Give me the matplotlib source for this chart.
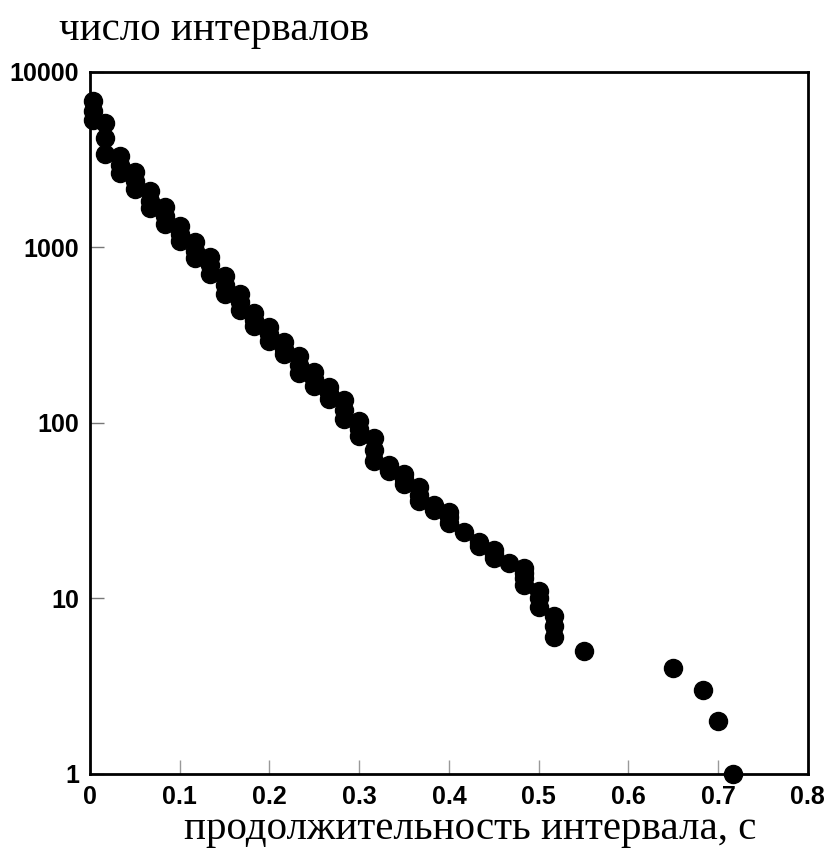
import matplotlib
matplotlib.use("Agg")
import matplotlib.pyplot as plt
from matplotlib.ticker import FixedLocator, NullLocator

# interval duration bins (s) and the counts plotted in each bin
durations = [0.003, 0.0167, 0.0333, 0.05, 0.0667, 0.0833, 0.1, 0.1167, 0.1333,
             0.15, 0.1667, 0.1833, 0.2, 0.2167, 0.2333, 0.25, 0.2667, 0.2833,
             0.3, 0.3167, 0.3333, 0.35, 0.3667, 0.3833, 0.4, 0.4167, 0.4333,
             0.45, 0.4667, 0.4833, 0.5, 0.5167, 0.55, 0.65, 0.6833, 0.7, 0.7167]
counts = [
    [6800, 6000, 5300], [5100, 4200, 3400], [3300, 2950, 2650],
    [2700, 2400, 2150], [2100, 1850, 1680], [1700, 1520, 1360],
    [1330, 1200, 1090], [1075, 960, 870], [880, 790, 705],
    [690, 610, 545], [540, 490, 440], [425, 385, 357],
    [352, 320, 293], [290, 265, 247], [241, 215, 193],
    [196, 178, 162], [160, 148, 137], [135, 118, 105],
    [103, 93, 84], [82, 70, 61], [58, 55, 53],
    [51, 48, 45], [43, 39, 36], [34, 32],
    [31, 29, 27], [24], [21, 20],
    [19, 18, 17], [16], [15, 14, 13, 12],
    [11, 10, 9], [8, 7, 6], [5], [4], [3], [2], [1],
]
x_ticks = [0, 0.1, 0.2, 0.3, 0.4, 0.5, 0.6, 0.7, 0.8]
x_labels = ["0", "0.1", "0.2", "0.3", "0.4", "0.5", "0.6", "0.7", "0.8"]
y_ticks = [1, 10, 100, 1000, 10000]
y_labels = ["1", "10", "100", "1000", "10000"]

xs = []
ys = []
for d, cs in zip(durations, counts):
    for c in cs:
        xs.append(d)
        ys.append(c)

tick_font = dict(family=["Liberation Sans Narrow", "Liberation Sans"],
                 weight="bold", size=18)

fig = plt.figure(figsize=(8.26, 8.56), dpi=100)
ax = fig.add_axes([0.109, 0.0958, 0.869, 0.8201])

ax.plot(xs, ys, "o", color="black", markersize=13, clip_on=False, zorder=3)

ax.set_yscale("log")
ax.set_xlim(0, 0.8)
ax.set_ylim(1, 10000)

ax.xaxis.set_major_locator(FixedLocator(x_ticks))
ax.yaxis.set_major_locator(FixedLocator(y_ticks))
ax.yaxis.set_minor_locator(NullLocator())
ax.set_xticklabels(x_labels, fontdict=tick_font)
ax.set_yticklabels(y_labels, fontdict=tick_font)
ax.tick_params(axis="x", direction="in", length=10, width=1, color="#999999", pad=8)
ax.tick_params(axis="y", direction="in", length=10, width=1, color="#777777", pad=8)

for s in ax.spines.values():
    s.set_linewidth(2)
    s.set_color("black")

fig.text(0.072, 0.964, "число интервалов", family="Liberation Serif",
         fontsize=29.5, ha="left", va="center")
fig.text(0.569, 0.031, "продолжительность интервала, с", family="Liberation Serif",
         fontsize=29.5, ha="center", va="center")

fig.savefig("out.png", dpi=100)
